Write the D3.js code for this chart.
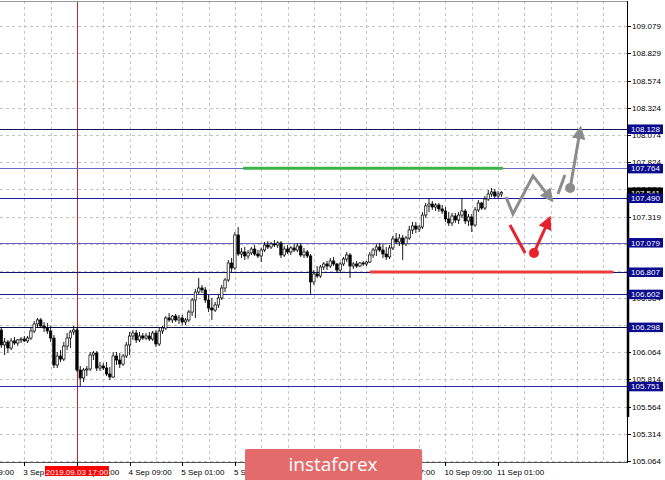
<!DOCTYPE html>
<html><head><meta charset="utf-8">
<script src="https://cdn.jsdelivr.net/npm/d3@7"></script>
<style>html,body{margin:0;padding:0;background:#fff;}svg{display:block;}</style>
</head><body>
<svg id="c" width="665" height="480"></svg>
<script>
// ---- data ----
const opens = [106.271,106.133,106.160,106.105,106.170,106.151,106.179,106.188,106.170,106.197,106.262,106.327,106.364,106.308,106.290,106.262,106.197,105.948,106.031,106.003,106.123,106.197,106.253,106.271,105.902,105.828,105.902,105.911,106.040,106.059,105.920,105.939,105.920,105.865,105.837,106.031,105.994,105.957,106.031,106.133,106.216,106.243,106.179,106.216,106.197,106.216,106.188,106.243,106.142,106.262,106.290,106.382,106.364,106.400,106.364,106.382,106.345,106.364,106.437,106.548,106.622,106.659,106.641,106.548,106.474,106.456,106.502,106.567,106.659,106.733,106.890,106.844,107.149,106.973,106.992,106.955,106.983,107.019,106.973,106.955,107.010,107.056,107.038,107.066,107.056,107.075,106.964,107.019,106.992,107.029,107.010,107.047,106.964,106.992,106.955,106.715,106.789,106.770,106.853,106.881,106.862,106.909,106.881,106.825,106.881,106.927,106.964,106.862,106.881,106.862,106.890,106.881,106.899,106.964,107.010,107.038,107.010,106.973,106.946,107.029,107.112,107.084,107.121,107.066,107.121,107.195,107.232,107.204,107.223,107.333,107.417,107.435,107.407,107.426,107.389,107.370,107.297,107.260,107.324,107.287,107.333,107.370,107.278,107.315,107.241,107.380,107.444,107.398,107.481,107.527,107.546,107.509,107.527];
const highs = [106.299,106.197,106.179,106.197,106.206,106.188,106.206,106.216,106.216,106.290,106.354,106.382,106.382,106.345,106.336,106.308,106.225,106.068,106.086,106.160,106.243,106.271,106.308,106.299,105.939,105.920,105.939,106.068,106.077,106.077,105.976,105.966,105.976,105.929,106.068,106.068,106.059,106.049,106.160,106.253,106.271,106.271,106.253,106.243,106.243,106.253,106.262,106.271,106.290,106.308,106.400,106.428,106.410,106.419,106.410,106.410,106.382,106.456,106.567,106.650,106.752,106.687,106.668,106.595,106.567,106.530,106.595,106.687,106.752,106.918,106.936,107.176,107.223,107.029,107.038,107.010,107.038,107.056,107.010,107.029,107.084,107.093,107.084,107.103,107.093,107.093,107.047,107.056,107.047,107.066,107.075,107.075,107.029,107.010,106.973,106.825,106.862,106.872,106.899,106.909,106.936,106.946,106.890,106.899,106.946,106.992,106.983,106.899,106.909,106.899,106.909,106.909,106.992,107.029,107.066,107.075,107.066,107.038,107.056,107.140,107.167,107.158,107.149,107.140,107.232,107.269,107.269,107.241,107.361,107.444,107.490,107.463,107.444,107.444,107.426,107.407,107.361,107.352,107.352,107.361,107.490,107.389,107.343,107.343,107.407,107.472,107.454,107.509,107.564,107.583,107.574,107.555,107.555];
const lows = [106.105,106.040,106.059,106.086,106.133,106.123,106.151,106.160,106.151,106.179,106.243,106.290,106.290,106.253,106.234,106.160,105.920,105.920,105.976,105.985,106.086,106.105,106.225,105.883,105.751,105.790,105.846,105.892,105.994,105.892,105.892,105.902,105.846,105.809,105.828,105.948,105.920,105.939,106.012,106.040,106.179,106.151,106.160,106.179,106.179,106.170,106.170,106.114,106.123,106.234,106.271,106.345,106.336,106.345,106.327,106.317,106.317,106.345,106.400,106.382,106.604,106.613,106.521,106.437,106.364,106.437,106.474,106.548,106.622,106.715,106.807,106.825,106.955,106.936,106.918,106.927,106.964,106.955,106.936,106.899,106.992,107.019,107.019,107.038,107.029,106.936,106.946,106.973,106.964,106.992,106.992,106.946,106.936,106.936,106.602,106.687,106.752,106.752,106.825,106.825,106.844,106.862,106.798,106.807,106.862,106.899,106.752,106.835,106.844,106.853,106.862,106.862,106.890,106.936,106.955,106.992,106.936,106.918,106.927,107.010,107.066,107.047,106.918,107.047,107.103,107.158,107.167,107.176,107.204,107.306,107.361,107.380,107.370,107.361,107.343,107.269,107.232,107.232,107.260,107.250,107.306,107.250,107.232,107.176,107.223,107.361,107.380,107.380,107.463,107.500,107.490,107.481,107.500];
const closes = [106.133,106.160,106.105,106.170,106.151,106.179,106.188,106.170,106.197,106.262,106.327,106.364,106.308,106.290,106.262,106.197,105.948,106.031,106.003,106.123,106.197,106.253,106.271,105.902,105.828,105.902,105.911,106.040,106.059,105.920,105.939,105.920,105.865,105.837,106.031,105.994,105.957,106.031,106.133,106.216,106.243,106.179,106.216,106.197,106.216,106.188,106.243,106.142,106.262,106.290,106.382,106.364,106.400,106.364,106.382,106.345,106.364,106.437,106.548,106.622,106.659,106.641,106.548,106.474,106.456,106.502,106.567,106.659,106.733,106.890,106.844,107.149,106.973,106.992,106.955,106.983,107.019,106.973,106.955,107.010,107.056,107.038,107.066,107.056,107.075,106.964,107.019,106.992,107.029,107.010,107.047,106.964,106.992,106.955,106.715,106.789,106.770,106.853,106.881,106.862,106.909,106.881,106.825,106.881,106.927,106.964,106.862,106.881,106.862,106.890,106.881,106.899,106.964,107.010,107.038,107.010,106.973,106.946,107.029,107.112,107.084,107.121,107.066,107.121,107.195,107.232,107.204,107.223,107.333,107.417,107.435,107.407,107.426,107.389,107.370,107.297,107.260,107.324,107.287,107.333,107.370,107.278,107.315,107.241,107.380,107.444,107.398,107.481,107.527,107.546,107.509,107.527,107.541];

const priceTicks = [109.079,108.829,108.574,108.324,108.074,107.824,107.574,107.319,107.069,106.814,106.564,106.314,106.064,105.814,105.564,105.314,105.064];
// tick labels fully hidden behind level labels in the reference
const hiddenTickLabels = [107.069,106.814,106.314];
const timeLabels = ["2 Sep 09:00","3 Sep 01:00","3 Sep 17:00","4 Sep 09:00","5 Sep 01:00","5 Sep 17:00","9 Sep 17:00","10 Sep 09:00","11 Sep 01:00"];
const timeLabelBars = [-9,7,23,39,55,71,119,135,151];
const timeTickBars = [-9,7,23,39,55,71,87,103,119,135,151];
const levelPrices = [108.128,107.764,107.490,107.079,106.807,106.602,106.298,105.751];
const levelColors = ["#14145a","#6b6bc4","#1e1e9c","#6464c0","#121270","#22229c","#0c0c48","#2a2aac"];
const currentPrice = 107.541;
const markerBar = 23, markerLabel = "2019.09.03 17:00";
const greenLevel = {price:107.764, from:73.5, to:152.5};
const redLevel = {price:106.807, from:112, to:186};
const grayPath1 = [[153.4,107.500],[155.5,107.343],[161.6,107.694],[166.8,107.490]];
const grayPath2 = [[169.2,107.527],[171.3,107.703]];
const grayDot = [172.9,107.583], grayArrowTip = [175.9,108.110];
const redPath1 = [[154.6,107.241],[159.2,106.983]];
const redDot = [161.9,106.983], redArrowTip = [166.3,107.280];

// ---- scales ----
const W = 665, H = 480, plotR = 627, axisY = 462;
const x = d3.scaleLinear().domain([0,151]).range([1.3,498.1]);
const y = d3.scaleLinear().domain([105.064,109.079]).range([460.7,26]);
const svg = d3.select("#c");
const font = "'Liberation Sans', Arial, sans-serif";

svg.append("rect").attr("width",W).attr("height",H).attr("fill","#fff");
const defs = svg.append("defs");
defs.append("clipPath").attr("id","plot").append("rect").attr("x",0).attr("y",1).attr("width",plotR).attr("height",axisY-1);
function marker(id,color){
  defs.append("marker").attr("id",id).attr("viewBox","0 0 10 10").attr("refX",6).attr("refY",5)
    .attr("markerWidth",4.5).attr("markerHeight",4.5).attr("orient","auto").attr("markerUnits","strokeWidth")
    .append("path").attr("d","M0,0 L10,5 L0,10 z").attr("fill",color);
}
marker("ag","#8c8c8c"); marker("ar","#e8212b");

const g = svg.append("g").attr("clip-path","url(#plot)");

// grid
const gridBars = d3.range(-1,195,8);
g.selectAll(".vg").data(gridBars).join("line").attr("x1",d=>Math.round(x(d))+0.5).attr("x2",d=>Math.round(x(d))+0.5).attr("y1",1).attr("y2",axisY)
  .attr("stroke","#c4c4c4").attr("stroke-dasharray","3,3");
g.selectAll(".hg").data(priceTicks).join("line").attr("x1",0).attr("x2",plotR).attr("y1",d=>Math.round(y(d))+0.5).attr("y2",d=>Math.round(y(d))+0.5)
  .attr("stroke","#c4c4c4").attr("stroke-dasharray","3,3");

// marker vertical line
g.append("line").attr("x1",Math.round(x(markerBar))+0.5).attr("x2",Math.round(x(markerBar))+0.5).attr("y1",0).attr("y2",axisY)
  .attr("stroke","#b52a2a").attr("stroke-width",1);

// levels
g.selectAll(".lv").data(levelPrices).join("line").attr("x1",0).attr("x2",plotR)
  .attr("y1",d=>Math.round(y(d))+0.5).attr("y2",d=>Math.round(y(d))+0.5).attr("stroke",(d,i)=>levelColors[i]).attr("stroke-width",1.2);

// candles
const bars = d3.range(closes.length);
const cg = g.append("g");
cg.selectAll(".wick").data(bars).join("line").attr("x1",i=>x(i)).attr("x2",i=>x(i)).attr("y1",i=>y(highs[i])).attr("y2",i=>y(lows[i]))
  .attr("stroke","#000").attr("stroke-width",0.9);
cg.selectAll(".body").data(bars).join("rect")
  .attr("x",i=>x(i)-1.2).attr("width",2.4)
  .attr("y",i=>y(Math.max(opens[i],closes[i])))
  .attr("height",i=>Math.max(0.8,Math.abs(y(opens[i])-y(closes[i]))))
  .attr("fill",i=>closes[i]>=opens[i]?"#fff":"#000").attr("stroke","#000").attr("stroke-width",0.7);

// green / red levels
g.append("line").attr("x1",x(greenLevel.from)).attr("x2",x(greenLevel.to)).attr("y1",y(greenLevel.price)).attr("y2",y(greenLevel.price))
  .attr("stroke","#3cb44a").attr("stroke-width",3);
g.append("line").attr("x1",x(redLevel.from)).attr("x2",x(redLevel.to)).attr("y1",y(redLevel.price)).attr("y2",y(redLevel.price))
  .attr("stroke","#ee3b3b").attr("stroke-width",3);

// forecast arrows
const ln = d3.line().x(d=>x(d[0])).y(d=>y(d[1]));
g.append("path").attr("d",ln(grayPath1)).attr("fill","none").attr("stroke","#8c8c8c").attr("stroke-width",3).attr("stroke-linejoin","miter").attr("marker-end","url(#ag)");
g.append("path").attr("d",ln(grayPath2)).attr("fill","none").attr("stroke","#8c8c8c").attr("stroke-width",3);
g.append("path").attr("d",ln([grayDot,grayArrowTip])).attr("fill","none").attr("stroke","#8c8c8c").attr("stroke-width",3).attr("marker-end","url(#ag)");
g.append("circle").attr("cx",x(grayDot[0])).attr("cy",y(grayDot[1])).attr("r",5).attr("fill","#8c8c8c");
g.append("path").attr("d",ln(redPath1)).attr("fill","none").attr("stroke","#e8212b").attr("stroke-width",3);
g.append("path").attr("d",ln([redDot,redArrowTip])).attr("fill","none").attr("stroke","#e8212b").attr("stroke-width",3).attr("marker-end","url(#ar)");
g.append("circle").attr("cx",x(redDot[0])).attr("cy",y(redDot[1])).attr("r",5).attr("fill","#e8212b");

// frame
svg.append("line").attr("x1",0).attr("x2",plotR).attr("y1",1.5).attr("y2",1.5).attr("stroke","#9a9a9a");
svg.append("line").attr("x1",0).attr("x2",plotR+0.5).attr("y1",axisY+0.5).attr("y2",axisY+0.5).attr("stroke","#555");
svg.append("line").attr("x1",plotR+0.5).attr("x2",plotR+0.5).attr("y1",1).attr("y2",axisY+1).attr("stroke","#000");
svg.append("line").attr("x1",plotR+1).attr("x2",plotR+1).attr("y1",y(currentPrice)).attr("y2",417).attr("stroke","#000").attr("stroke-width",2.5);

// right axis
const ra = svg.append("g");
ra.selectAll(".rt").data(priceTicks).join("line").attr("x1",plotR).attr("x2",plotR+4)
  .attr("y1",d=>Math.round(y(d))+0.5).attr("y2",d=>Math.round(y(d))+0.5).attr("stroke","#000");
ra.selectAll(".rl").data(priceTicks.filter(d=>!hiddenTickLabels.includes(d))).join("text").attr("x",632).attr("y",d=>y(d)+3)
  .attr("font-family",font).attr("font-size",8).attr("fill","#000").text(d=>d.toFixed(3));
// current price label
ra.append("rect").attr("x",628).attr("y",y(currentPrice)-5).attr("width",35).attr("height",10).attr("fill","#000");
ra.append("text").attr("x",631).attr("y",y(currentPrice)+3).attr("font-family",font).attr("font-size",8).attr("fill","#fff").text(currentPrice.toFixed(3));
// level labels
const lg = ra.selectAll(".lb").data(levelPrices).join("g");
lg.append("rect").attr("x",628).attr("y",d=>y(d)-4.5).attr("width",35).attr("height",9.5).attr("fill","#0a0a8c");
lg.append("text").attr("x",631).attr("y",d=>y(d)+3).attr("font-family",font).attr("font-size",8).attr("fill","#fff").text(d=>d.toFixed(3));

// bottom axis
const ba = svg.append("g");
ba.selectAll(".bt").data(timeTickBars).join("line").attr("x1",d=>Math.round(x(d))+0.5).attr("x2",d=>Math.round(x(d))+0.5)
  .attr("y1",axisY).attr("y2",axisY+4).attr("stroke","#000");
ba.selectAll(".bl").data(timeLabelBars).join("text").attr("x",d=>x(d)-1).attr("y",474.5)
  .attr("font-family",font).attr("font-size",8).attr("fill","#000").text((d,i)=>timeLabels[i]);
const mx = x(markerBar);
ba.append("rect").attr("x",mx-32).attr("y",466).attr("width",64).attr("height",10).attr("fill","#f00");
ba.append("text").attr("x",mx).attr("y",474.5).attr("text-anchor","middle").attr("font-family",font).attr("font-size",8).attr("fill","#fff").text(markerLabel);

// logo
const lgG = svg.append("g");
lgG.append("rect").attr("x",245).attr("y",449).attr("width",177).attr("height",34).attr("rx",2).attr("fill","#e36b6b");
lgG.append("text").attr("x",333).attr("y",471).attr("text-anchor","middle").attr("font-family","'Open Sans', 'Noto Sans', sans-serif")
  .attr("font-size",19).attr("fill","#fff").text("instaforex");
</script>
</body></html>
